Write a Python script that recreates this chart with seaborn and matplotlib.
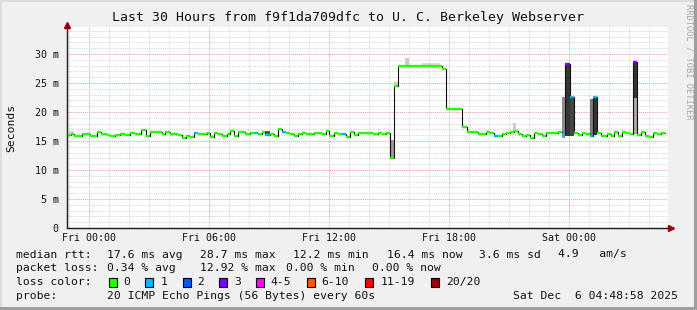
import matplotlib
matplotlib.use("Agg")
import matplotlib.pyplot as plt
import seaborn as sns
import numpy as np
from matplotlib.patches import Rectangle
from matplotlib.lines import Line2D

# ---------------- data ----------------
# segment boundaries (hours relative to Fri 00:00)
seg_bounds_h = [
    -1.10, -0.90, -0.75, -0.35, 0.05, 0.40, 0.60, 0.90, 1.05, 1.30,
    1.55, 1.80, 2.05, 2.30, 2.60, 2.85, 3.05, 3.65, 3.80, 4.05,
    4.45, 4.65, 4.85, 5.05, 5.25, 5.45, 5.90, 6.05, 6.25, 6.45,
    6.65, 6.90, 7.05, 7.25, 7.45, 7.80, 8.05, 8.25, 8.45, 8.65,
    8.80, 9.05, 9.25, 9.45, 9.65, 9.85, 10.05, 10.25, 10.45, 10.65,
    10.85, 11.25, 11.65, 11.85, 12.00, 12.25, 12.45, 12.65, 12.85, 13.05,
    13.25, 13.45, 14.20, 14.45, 14.65, 14.85, 15.05, 15.25, 15.45, 17.65,
    17.85, 18.65, 18.90, 19.20, 19.45, 19.85, 20.05, 20.25, 20.45, 20.65,
    20.85, 21.05, 21.25, 21.45, 21.65, 21.85, 22.05, 22.25, 22.45, 22.65,
    22.85, 23.45, 23.65, 23.80, 24.05, 24.25, 24.45, 24.65, 24.85, 25.05,
    25.20, 25.40, 25.60, 25.90, 26.10, 26.25, 26.45, 26.65, 26.85, 27.05,
    27.20, 27.40, 27.60, 27.80, 28.00, 28.20, 28.40, 28.60, 28.80,
]
# median rtt per segment (ms)
median_ms = [
    16.1, 16.2, 15.9, 16.2, 15.9, 16.55, 16.2, 16.1, 15.9, 16.1,
    16.2, 16.0, 16.4, 16.2, 16.95, 15.9, 16.55, 16.2, 16.55, 16.2,
    16.0, 15.6, 15.9, 15.7, 16.4, 16.2, 16.4, 15.7, 16.4, 16.2,
    15.9, 16.2, 16.8, 15.9, 16.55, 16.2, 16.3, 16.4, 16.2, 16.55,
    16.1, 16.2, 15.9, 17.1, 16.55, 16.4, 16.2, 15.9, 16.2, 16.4,
    16.2, 16.4, 16.2, 16.8, 15.9, 16.4, 16.2, 16.2, 15.7, 16.55,
    16.0, 16.4, 16.15, 16.4, 16.15, 16.4, 12.1, 24.5, 28.0, 27.5,
    20.6, 17.4, 16.6, 16.5, 16.15, 16.5, 16.3, 15.9, 15.9, 16.15,
    16.3, 16.5, 16.7, 16.15, 15.8, 16.0, 15.6, 16.4, 16.15, 15.9,
    16.3, 16.5, 16.2, 28.3, 22.6, 16.4, 16.0, 16.4, 16.2, 15.9,
    22.6, 16.4, 15.9, 16.2, 15.8, 16.6, 15.9, 16.6, 16.3, 16.2,
    28.7, 16.0, 16.6, 15.9, 15.7, 16.4, 16.2, 16.4,
]
# lost pings per segment (index into loss colours)
loss_level = [
    0, 0, 0, 0, 0, 0, 0, 0, 0, 0,
    0, 0, 0, 0, 0, 0, 0, 0, 0, 0,
    0, 0, 0, 0, 1, 0, 0, 0, 0, 0,
    0, 0, 0, 0, 0, 0, 0, 1, 0, 0,
    1, 0, 0, 0, 1, 0, 0, 0, 0, 0,
    0, 0, 0, 0, 0, 0, 0, 1, 0, 0,
    0, 0, 0, 0, 0, 0, 0, 0, 0, 0,
    0, 0, 0, 0, 0, 0, 0, 1, 0, 0,
    0, 0, 0, 0, 0, 0, 0, 0, 0, 0,
    0, 0, 1, 3, 1, 0, 0, 0, 0, 1,
    1, 0, 0, 0, 0, 0, 0, 0, 0, 0,
    3, 0, 0, 0, 0, 0, 0, 0,
]
assert len(seg_bounds_h) == len(median_ms) + 1 == len(loss_level) + 1

# smoke (ping spread) bands
smoke_start_h = [-1.00, 8.80, 15.05, 15.25, 15.80, 16.65, 21.20, 23.65, 23.80, 24.05, 25.05, 25.20, 27.20, 27.20]
smoke_end_h   = [-0.75, 9.05, 15.25, 15.45, 16.00, 17.55, 21.35, 23.80, 24.05, 24.25, 25.20, 25.40, 27.40, 27.40]
smoke_lo_ms   = [16.2, 16.1, 12.1, 24.5, 28.0, 28.0, 16.7, 15.5, 15.8, 15.9, 15.9, 16.0, 16.2, 22.4]
smoke_hi_ms   = [16.7, 16.7, 15.2, 25.2, 29.3, 28.4, 18.1, 22.6, 28.3, 22.6, 22.2, 22.6, 22.4, 28.7]
smoke_shade   = ["#d4d4d4", "#555555", "#999999", "#cccccc", "#cccccc", "#dddddd", "#cccccc",
                 "#8c8c8c", "#363636", "#444444", "#7a7a7a", "#363636", "#aaaaaa", "#363636"]

xtick_hours = [0, 6, 12, 18, 24]
xtick_labels = ["Fri 00:00", "Fri 06:00", "Fri 12:00", "Fri 18:00", "Sat 00:00"]
ytick_ms = [0, 5, 10, 15, 20, 25, 30]
ytick_labels = ["0", "5 m", "10 m", "15 m", "20 m", "25 m", "30 m"]

loss_names = ["0", "1", "2", "3", "4-5", "6-10", "11-19", "20/20"]
loss_colors = ["#26ff00", "#00b8ff", "#0059ff", "#7e00ff", "#ff00ff", "#ff5500", "#ff0000", "#a10000"]

title = "Last 30 Hours from f9f1da709dfc to U. C. Berkeley Webserver"
rtt_stats = ["median rtt:", "17.6 ms avg", "28.7 ms max", "12.2 ms min", "16.4 ms now", "3.6 ms sd", "4.9   am/s"]
loss_stats = ["packet loss:", "0.34 % avg", "12.92 % max", "0.00 % min", "0.00 % now"]
probe_text = ["probe:", "20 ICMP Echo Pings (56 Bytes) every 60s", "Sat Dec  6 04:48:58 2025"]

# ---------------- style ----------------
sns.set_style("white")
plt.rcParams["font.family"] = ["DejaVu Sans Mono", "DejaVu Sans"]

W, H = 697, 310
fig = plt.figure(figsize=(W / 100, H / 100), dpi=100)
fig.patch.set_facecolor("#f0f0f0")


def fx(x):
    return x / W


def fy(y):
    return 1 - y / H


# frame shading
fig.patches.append(Rectangle((fx(0), fy(2)), fx(697), 2 / H, transform=fig.transFigure,
                             color="#dcdcdc", lw=0))
fig.patches.append(Rectangle((fx(0), fy(310)), 2 / W, 1, transform=fig.transFigure,
                             color="#dcdcdc", lw=0))
fig.patches.append(Rectangle((fx(0), fy(310)), 1, 3 / H, transform=fig.transFigure,
                             color="#9e9e9e", lw=0))
fig.patches.append(Rectangle((fx(694), fy(310)), 3 / W, 1, transform=fig.transFigure,
                             color="#9e9e9e", lw=0))

ax = fig.add_axes([fx(67), fy(228), (668 - 67) / W, (228 - 27) / H])
ax.set_facecolor("white")
ax.set_xlim(-1.1, 28.95)
ax.set_ylim(0, 34.66)

# grid
ax.set_xticks(xtick_hours)
ax.set_xticklabels(xtick_labels)
ax.set_xticks(np.arange(-1, 29, 1), minor=True)
ax.set_yticks(ytick_ms)
ax.set_yticklabels(ytick_labels)
ax.set_yticks(np.arange(0, 35, 1), minor=True)
ax.grid(which="minor", color="#d2d2d2", ls=(0, (1, 1)), lw=0.65)
ax.grid(which="major", color="#f09a9a", ls=(0, (1, 1)), lw=0.7)
ax.set_axisbelow(True)

for s in ["top", "right"]:
    ax.spines[s].set_visible(False)
for s in ["left", "bottom"]:
    ax.spines[s].set_color("#222222")
    ax.spines[s].set_linewidth(0.9)

ax.tick_params(axis="both", which="both", direction="out", color="#444444", width=0.7)
ax.tick_params(axis="both", which="major", length=2.5, labelsize=7.2, labelcolor="#111111")
ax.tick_params(axis="both", which="minor", length=1.5)
ax.tick_params(axis="y", pad=3.5)
ax.tick_params(axis="x", pad=1.2)

# smoke
ax.bar(smoke_start_h, np.array(smoke_hi_ms) - np.array(smoke_lo_ms), bottom=smoke_lo_ms,
       width=np.array(smoke_end_h) - np.array(smoke_start_h), align="edge",
       color=smoke_shade, lw=0, zorder=2)

# median line (black step connectors) via seaborn
step_x = seg_bounds_h
step_y = median_ms + [median_ms[-1]]
sns.lineplot(x=step_x, y=step_y, drawstyle="steps-post", color="#111111", lw=0.8,
             estimator=None, sort=False, ax=ax, zorder=3)
# coloured median segments
ax.hlines(median_ms, seg_bounds_h[:-1], seg_bounds_h[1:],
          colors=[loss_colors[l] for l in loss_level], lw=1.7, zorder=4)
ax.set_xlabel("")
ax.set_ylabel("")

# axis arrows
fig.add_artist(Line2D([fx(67)], [fy(24.5)], marker="^", ms=4.5, color="#a00000",
                      transform=fig.transFigure, lw=0))
fig.add_artist(Line2D([fx(670.5)], [fy(228)], marker=">", ms=4.5, color="#a00000",
                      transform=fig.transFigure, lw=0))
fig.add_artist(Line2D([fx(67), fx(67)], [fy(228), fy(25)], color="#222222", lw=0.9,
                      transform=fig.transFigure))
fig.add_artist(Line2D([fx(67), fx(669)], [fy(228), fy(228)], color="#222222", lw=0.9,
                      transform=fig.transFigure))

# texts
fig.text(fx(347.5), fy(18), title, ha="center", va="center", fontsize=9.5, color="#111111")
fig.text(fx(11), fy(128), "Seconds", rotation=90, ha="center", va="center", fontsize=8.2,
         color="#111111")
fig.text(fx(689), fy(62), "RRDTOOL / TOBI OETIKER", rotation=270, ha="center", va="center",
         fontsize=6.3, color="#a8a8a8")

fs = 8.2
rtt_x = [16, 107, 200, 293, 386.7, 479, 558]
for s, x in zip(rtt_stats, rtt_x):
    fig.text(fx(x), fy(254.5), s, ha="left", va="center", fontsize=fs, color="#111111")
loss_x = [16, 107, 200, 286, 372.3]
for s, x in zip(loss_stats, loss_x):
    fig.text(fx(x), fy(268.3), s, ha="left", va="center", fontsize=fs, color="#111111")
fig.text(fx(16), fy(281.7), "loss color:", ha="left", va="center", fontsize=fs, color="#111111")
box_x = [108.7, 145.3, 182.7, 219.3, 256, 307.3, 365.3, 430.7]
lab_x = [123.3, 160.7, 197.3, 234.3, 270.7, 321.7, 380.7, 445.7]
for name, col, bx, lx in zip(loss_names, loss_colors, box_x, lab_x):
    fig.patches.append(Rectangle((fx(bx), fy(286.5)), 8 / W, 9 / H, transform=fig.transFigure,
                                 facecolor=col, edgecolor="#000000", lw=0.8))
    fig.text(fx(lx), fy(281.7), name, ha="left", va="center", fontsize=fs, color="#111111")
probe_x = [16, 107, 513.3]
for s, x in zip(probe_text, probe_x):
    fig.text(fx(x), fy(296), s, ha="left", va="center", fontsize=fs, color="#111111")

fig.savefig("out.png", dpi=100, facecolor=fig.get_facecolor())
